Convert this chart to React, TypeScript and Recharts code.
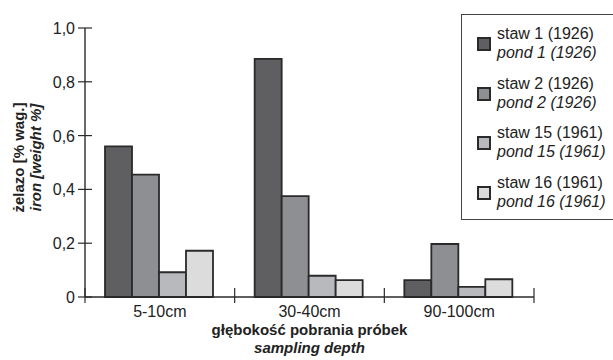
import React from 'react';
import { BarChart, Bar, XAxis, YAxis, Legend } from 'recharts';

const categories = ['5-10cm', '30-40cm', '90-100cm'];
const pond1 = [0.56, 0.885, 0.063];
const pond2 = [0.455, 0.375, 0.197];
const pond15 = [0.092, 0.079, 0.038];
const pond16 = [0.172, 0.063, 0.066];
const seriesKeys = ['s1', 's2', 's15', 's16'];
const seriesNamesPl = ['staw 1 (1926)', 'staw 2 (1926)', 'staw 15 (1961)', 'staw 16 (1961)'];
const seriesNamesEn = ['pond 1 (1926)', 'pond 2 (1926)', 'pond 15 (1961)', 'pond 16 (1961)'];
const seriesColors = ['#5f5f61', '#8e8f92', '#b8b9bc', '#dcdcdd'];
const yTicks = [0, 0.2, 0.4, 0.6, 0.8, 1.0];
const yTitlePl = 'żelazo [% wag.]';
const yTitleEn = 'iron [weight %]';
const xTitlePl = 'głębokość pobrania próbek';
const xTitleEn = 'sampling depth';

const seriesValues = [pond1, pond2, pond15, pond16];
const data = categories.map((c, i) => {
  const row: any = { cat: c };
  seriesKeys.forEach((k, j) => {
    row[k] = seriesValues[j][i];
  });
  return row;
});

const FONT = '"Liberation Sans", Arial, sans-serif';
const INK = '#2a2a2a';

const fmt = (v: number) => (v === 0 ? '0' : v.toFixed(1).replace('.', ','));

const YTick = (props: any) => {
  const { x, y, payload } = props;
  return (
    <g>
      <line x1={x - 7} x2={x + 7} y1={y} y2={y} stroke={INK} strokeWidth={1.2} />
      <text x={x - 10} y={y + 6} textAnchor="end" fontSize={16} fontFamily={FONT} fill="#222">
        {fmt(payload.value)}
      </text>
    </g>
  );
};

const XTick = (props: any) => {
  const { x, y, payload, index, visibleTicksCount } = props;
  const half = payload.offset != null && payload.offset > 0 ? payload.offset : 75;
  const isLast = index === (visibleTicksCount ?? categories.length) - 1;
  return (
    <g>
      <line x1={x - half} x2={x - half} y1={y - 9} y2={y + 6} stroke={INK} strokeWidth={1.2} />
      {isLast && (
        <line x1={x + half} x2={x + half} y1={y - 9} y2={y + 6} stroke={INK} strokeWidth={1.2} />
      )}
      <text x={x} y={y + 20} textAnchor="middle" fontSize={16} fontFamily={FONT} fill="#222">
        {payload.value}
      </text>
    </g>
  );
};

const YTitle = (props: any) => {
  const vb = props.viewBox || {};
  const cy = (vb.y ?? 28) + (vb.height ?? 269) / 2 - 5;
  return (
    <g>
      <text
        transform={`translate(24, ${cy}) rotate(-90)`}
        textAnchor="middle"
        fontSize={15}
        fontWeight="bold"
        fontFamily={FONT}
        fill="#222"
      >
        {yTitlePl}
      </text>
      <text
        transform={`translate(41, ${cy}) rotate(-90)`}
        textAnchor="middle"
        fontSize={15}
        fontWeight="bold"
        fontStyle="italic"
        fontFamily={FONT}
        fill="#222"
      >
        {yTitleEn}
      </text>
    </g>
  );
};

const XTitle = (props: any) => {
  const vb = props.viewBox || {};
  const cx = (vb.x ?? 85) + (vb.width ?? 449) / 2;
  const y0 = vb.y ?? 297;
  return (
    <g>
      <text x={cx} y={y0 + 38} textAnchor="middle" fontSize={15} fontWeight="bold" fontFamily={FONT} fill="#222">
        {xTitlePl}
      </text>
      <text
        x={cx}
        y={y0 + 56}
        textAnchor="middle"
        fontSize={15}
        fontWeight="bold"
        fontStyle="italic"
        fontFamily={FONT}
        fill="#222"
      >
        {xTitleEn}
      </text>
    </g>
  );
};

const LegendBox = () => (
  <div
    style={{
      position: 'relative',
      width: 170,
      height: 206,
      border: '1px solid #444',
      boxSizing: 'border-box',
      background: '#fff',
      fontFamily: FONT,
      fontSize: 16,
      color: '#222',
    }}
  >
    {seriesKeys.map((k, i) => (
      <div key={k} style={{ position: 'absolute', left: 0, top: i * 49.5 }}>
        <div
          style={{
            position: 'absolute',
            left: 15,
            top: 22,
            width: 14,
            height: 14,
            boxSizing: 'border-box',
            border: `2px solid ${INK}`,
            background: seriesColors[i],
          }}
        />
        <div style={{ position: 'absolute', left: 35, top: 9, lineHeight: '19px', whiteSpace: 'nowrap' }}>
          <div>{seriesNamesPl[i]}</div>
          <div style={{ fontStyle: 'italic' }}>{seriesNamesEn[i]}</div>
        </div>
      </div>
    ))}
  </div>
);

export default function App() {
  return (
    <div
      style={{
        position: 'absolute',
        left: 0,
        top: 0,
        width: 613,
        height: 360,
        overflow: 'hidden',
        background: '#fff',
      }}
    >
      <BarChart
        width={613}
        height={360}
        data={data}
        margin={{ top: 28, right: 79, bottom: 0, left: 0 }}
        barCategoryGap={20}
        barGap={0}
      >
        <XAxis
          dataKey="cat"
          height={63}
          tickSize={0}
          tickMargin={0}
          tick={<XTick />}
          axisLine={{ stroke: INK, strokeWidth: 1.4 }}
          tickLine={false}
          interval={0}
          label={{ content: <XTitle /> } as any}
        />
        <YAxis
          width={85}
          domain={[0, 1]}
          ticks={yTicks}
          tickSize={0}
          tickMargin={0}
          tick={<YTick />}
          axisLine={{ stroke: INK, strokeWidth: 1.4 }}
          tickLine={false}
          interval={0}
          label={{ content: <YTitle /> } as any}
        />
        <Legend
          layout="vertical"
          align="center"
          verticalAlign="middle"
          content={<LegendBox />}
          wrapperStyle={{ position: 'absolute', left: 461, top: 14, width: 170, height: 206 }}
        />
        {seriesKeys.map((k, i) => (
          <Bar
            key={k}
            dataKey={k}
            name={seriesNamesPl[i]}
            fill={seriesColors[i]}
            stroke={INK}
            strokeWidth={1.8}
            isAnimationActive={false}
          />
        ))}
      </BarChart>
    </div>
  );
}
